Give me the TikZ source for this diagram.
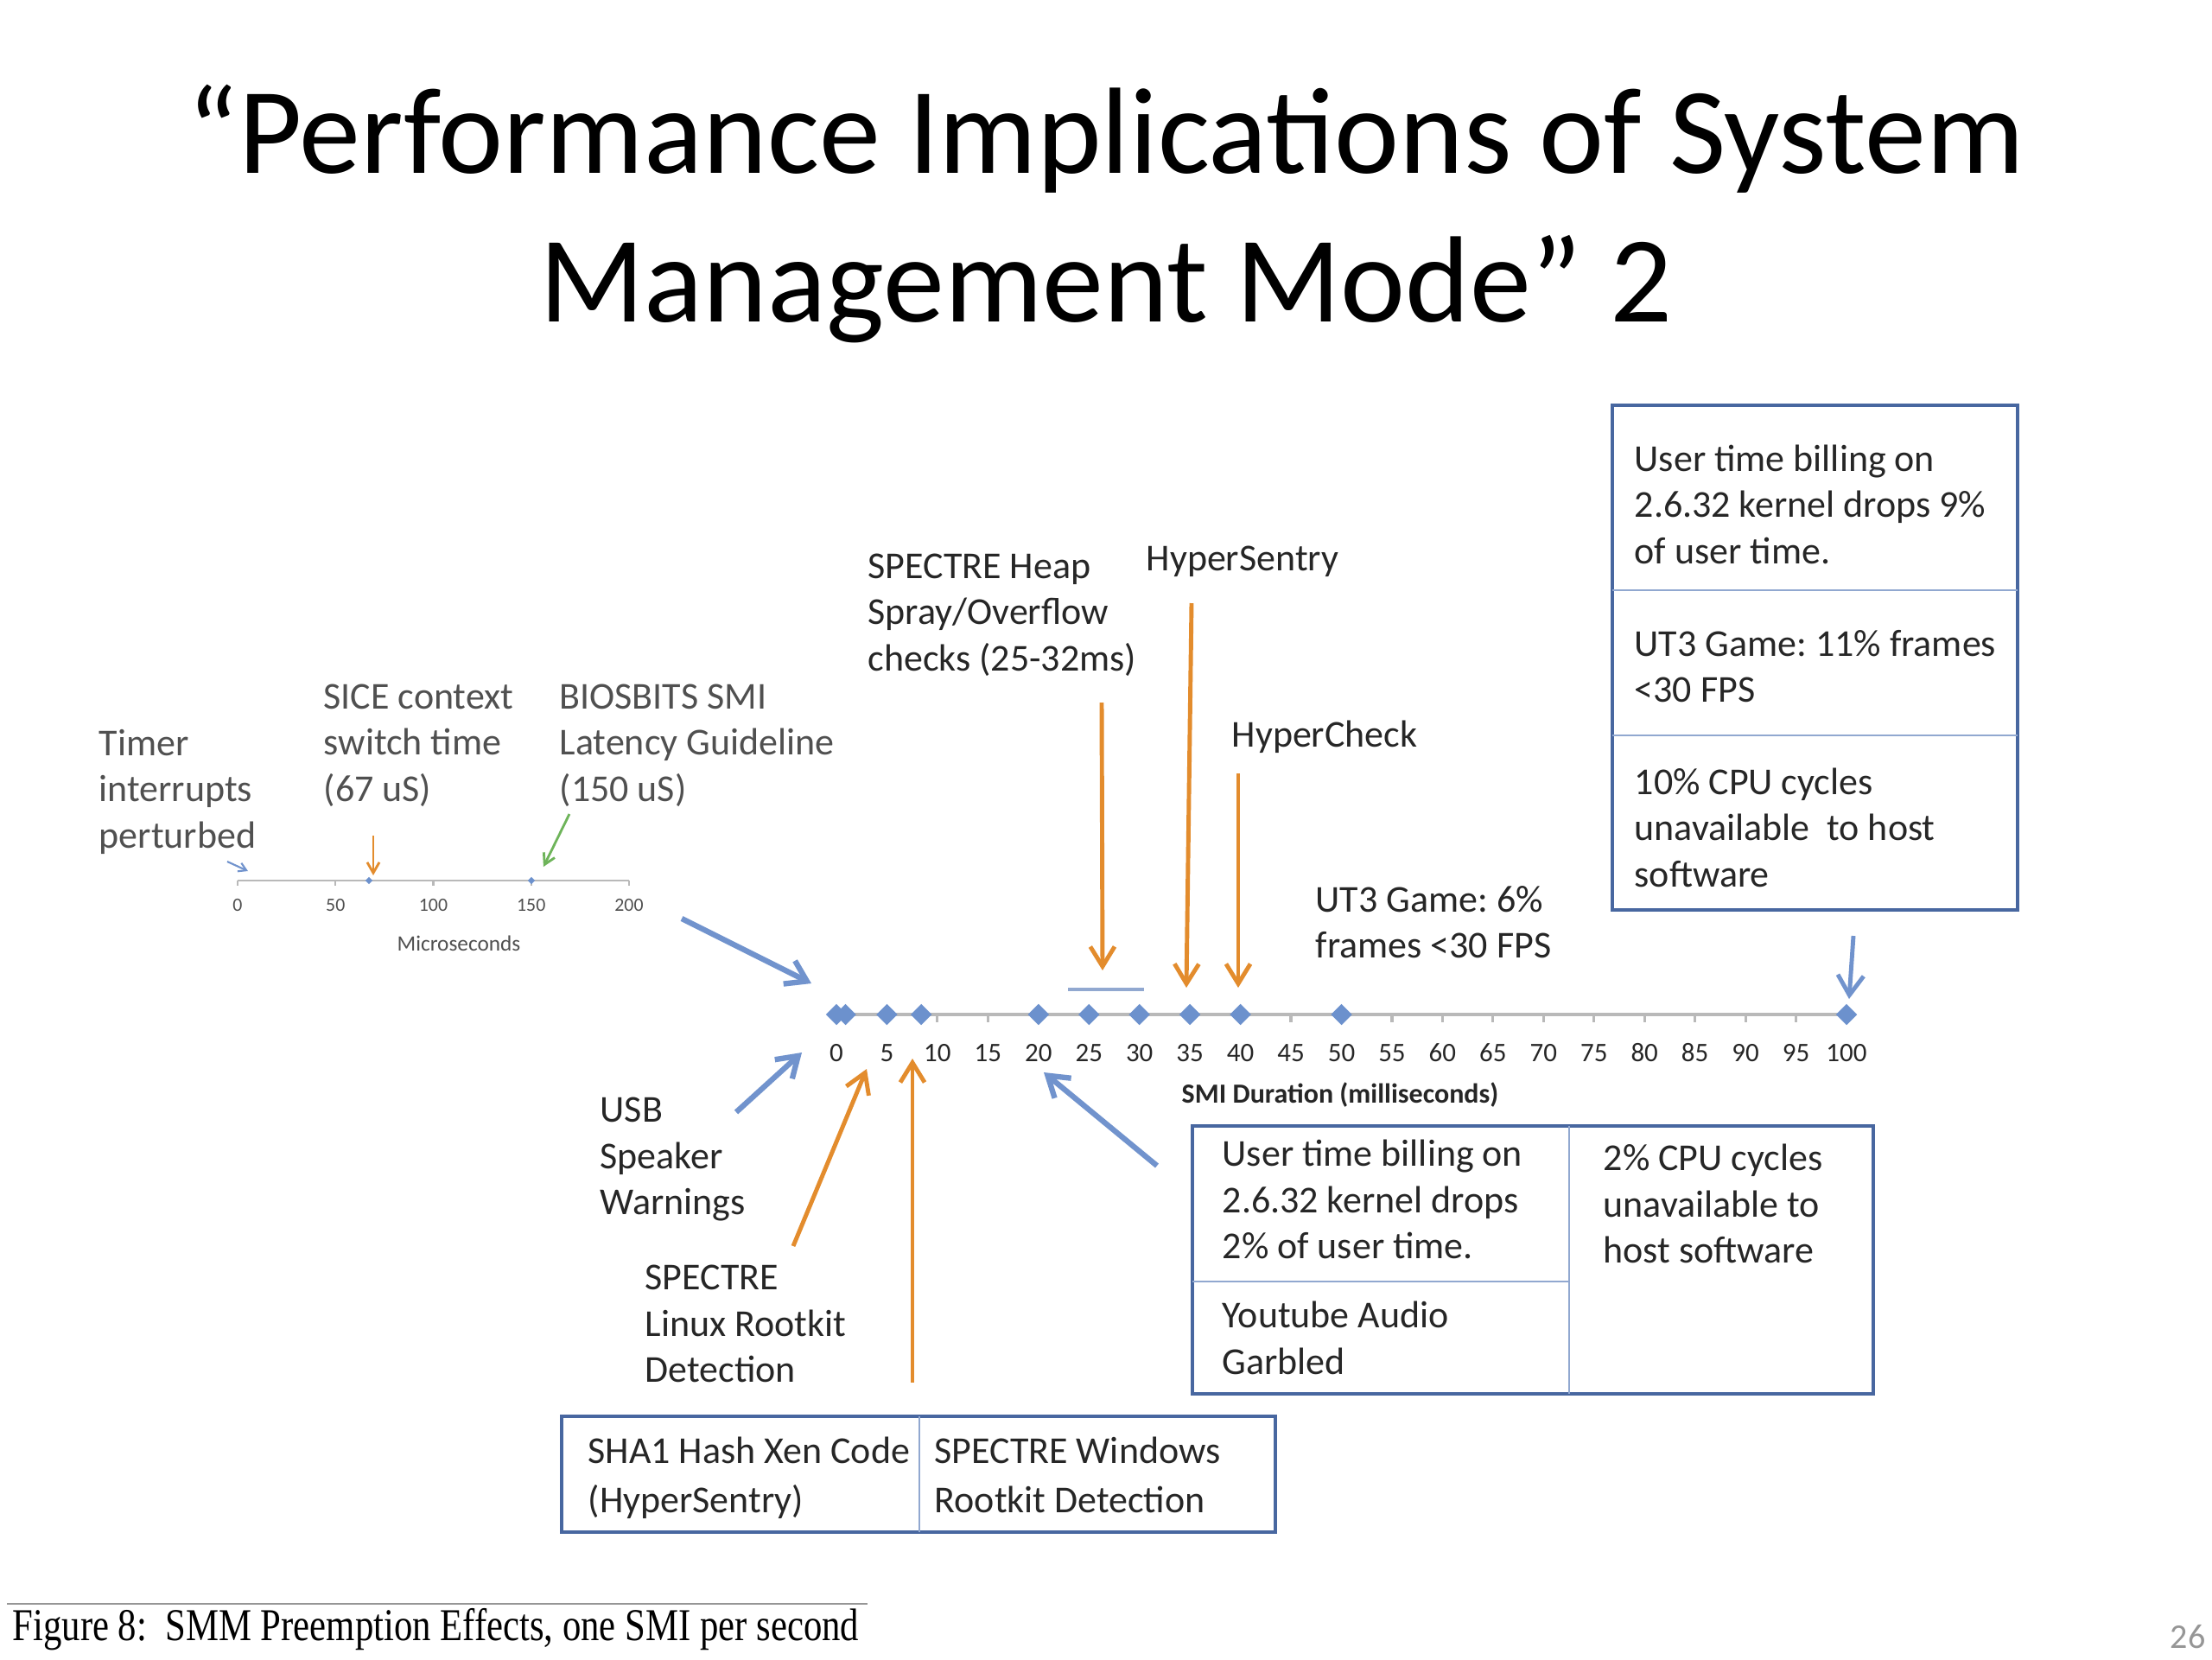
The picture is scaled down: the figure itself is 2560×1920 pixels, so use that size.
\documentclass[tikz,border=0pt]{standalone}
\usepackage{fontspec}
\setmainfont{Carlito}
\newfontfamily\capfont{Liberation Serif}
\usetikzlibrary{arrows.meta,shapes.geometric}
\definecolor{orA}{RGB}{227,140,45}
\definecolor{blA}{RGB}{113,147,205}
\definecolor{grA}{RGB}{110,180,90}
\definecolor{dmdC}{RGB}{108,145,205}
\definecolor{axC}{RGB}{185,185,185}
\definecolor{boxC}{RGB}{72,103,160}
\definecolor{divC}{RGB}{145,168,208}
\definecolor{txtC}{RGB}{38,38,38}
\definecolor{txtG}{RGB}{80,80,80}
\definecolor{pgC}{RGB}{150,150,150}
\newcommand\lblfont{\fontsize{12.5pt}{15.1pt}\selectfont}
\newcommand\titlefont{\fontsize{40.4pt}{48.9pt}\selectfont}
\newcommand\tickfont{\fontsize{8.8pt}{10pt}\selectfont}
\newcommand\mtickfont{\fontsize{6.2pt}{7pt}\selectfont}
\frenchspacing
\begin{document}
\begin{tikzpicture}[x=0.01cm,y=-0.01cm,
  lbl/.style={anchor=north west,inner sep=0pt,align=left,font=\lblfont,text=txtC},
  lblg/.style={lbl,text=txtG},
  bigbox/.style={draw=boxC,line width=1.1pt,inner sep=0pt,fill=none},
  divline/.style={draw=divC,line width=0.7pt},
  axisline/.style={draw=axC,line width=0.9pt},
  dmd/.style={shape=diamond,fill=dmdC,inner sep=0pt,minimum size=0.25cm},
  sdmd/.style={shape=diamond,fill=dmdC,inner sep=0pt,minimum size=0.09cm},
  tick/.style={anchor=base,inner sep=0pt,font=\tickfont,text=txtC},
  mtick/.style={anchor=base,inner sep=0pt,font=\mtickfont,text=txtG},
  oarrow/.style={draw=orA,line width=1.4pt,-{Straight Barb[length=6.5pt,width=8pt]}},
  barrow/.style={draw=blA,line width=1.8pt,-{Straight Barb[length=6.5pt,width=8.5pt]}},
]
\useasboundingbox (0,0) rectangle (2560,1920);
\fill[white] (0,0) rectangle (2560,1920);

% title
\node[anchor=north,inner sep=0pt,align=center,font=\titlefont,text=black] (title) at (1280,79)
  {\strut“Performance Implications of System\\Management Mode” 2};

% micro axis
\draw[axisline,line width=0.6pt] (275,1019) -- (728,1019);
\foreach \k/\v in {0/0,1/50,2/100,3/150,4/200}{
  \draw[axisline,line width=0.6pt] (275+113.25*\k,1019) -- ++(0,6);
  \node[mtick] (mt\k) at (275+113.25*\k,1054) {\v};
}
\node[inner sep=0pt,font=\fontsize{7.2pt}{8pt}\selectfont,text=txtG] (microlbl) at (531,1092) {Microseconds};
\node[sdmd] (ms67) at (427,1019) {};
\node[sdmd] (ms150) at (615,1019) {};

% main axis
\draw[axisline] (962,1174) -- (2137,1174);
\foreach \k in {0,...,20}{
  \draw[axisline] (968+58.45*\k,1174) -- ++(0,9);
  \pgfmathtruncatemacro\vv{5*\k}
  \node[tick] (t\k) at (968+58.45*\k,1228) {\vv};
}
\node[inner sep=0pt,font=\fontsize{9.1pt}{10pt}\selectfont\bfseries,text=txtC] (smilbl) at (1551,1267) {SMI Duration (milliseconds)};
\foreach \v/\n in {0/a,0.9/b,5/c,8.4/d,20/e,25/f,30/g,35/h,40/i,50/j,100/k}{
  \node[dmd] (d\n) at (968+11.69*\v,1174) {};
}
\draw[draw=divC,line width=1.1pt] (1236,1145) coordinate (barL) -- (1324,1145) coordinate (barR);

% labels
\node[lblg] (timer) at (114,837) {\strut Timer\\interrupts\\perturbed};
\node[lblg] (sice) at (374,783) {\strut SICE context\\switch time\\(67 uS)};
\node[lblg] (bios) at (647,783) {\strut BIOSBITS SMI\\Latency Guideline\\(150 uS)};
\node[lbl] (heap) at (1004,632) {\strut SPECTRE Heap\\Spray/Overflow\\checks (25-32ms)};
\node[lbl] (hsen) at (1326,623) {\strut HyperSentry};
\node[lbl] (hchk) at (1425,827) {\strut HyperCheck};
\node[lbl] (ut3) at (1522,1018) {\strut UT3 Game: 6\%\\frames <30 FPS};
\node[lbl] (usb) at (694,1261) {\strut USB\\Speaker\\Warnings};
\node[lbl] (linux) at (746,1455) {\strut SPECTRE\\Linux Rootkit\\Detection};

% top-right box
\node[bigbox,minimum width=4.69cm,minimum height=5.84cm] (trbox) at (2100.5,761) {};
\draw[divline] (1866,683) -- (2335,683);
\draw[divline] (1866,851) -- (2335,851);
\node[lbl] (tr1) at (1891,508) {\strut User time billing on\\2.6.32 kernel drops 9\%\\of user time.};
\node[lbl] (tr2) at (1891,722) {\strut UT3 Game: 11\% frames\\<30 FPS};
\node[lbl] (tr3) at (1891,882) {\strut 10\% CPU cycles\\unavailable\ \ to host\\software};

% bottom-right box
\node[bigbox,minimum width=7.88cm,minimum height=3.10cm] (brbox) at (1774,1458) {};
\draw[divline] (1816,1303) -- (1816,1613);
\draw[divline] (1380,1483) -- (1816,1483);
\node[lbl] (br1) at (1414,1312) {\strut User time billing on\\2.6.32 kernel drops\\2\% of user time.};
\node[lbl] (br2) at (1414,1499) {\strut Youtube Audio\\Garbled};
\node[lbl] (br3) at (1855,1317) {\strut 2\% CPU cycles\\unavailable to\\host software};

% bottom box
\node[bigbox,minimum width=8.26cm,minimum height=1.34cm] (bbox) at (1063,1706) {};
\draw[divline] (1064,1639) -- (1064,1773);
\node[lbl] (b1) at (680,1656) {\strut SHA1 Hash Xen Code\\[1.1pt](HyperSentry)};
\node[lbl] (b2) at (1081,1656) {\strut SPECTRE Windows\\[1.1pt]Rootkit Detection};

% arrow end points
\coordinate (aTimS) at (263,997);  \coordinate (aTimE) at (287,1008);
\coordinate (aSicS) at (432,967);  \coordinate (aSicE) at (432,1013);
\coordinate (aBioS) at (659,942);  \coordinate (aBioE) at (629,1003);
\coordinate (aBigS) at (789,1063); \coordinate (aBigE) at (939,1138);
\coordinate (aHeaS) at (1275,813); \coordinate (aHeaE) at (1276,1123);
\coordinate (aHseS) at (1379,698); \coordinate (aHseE) at (1373,1143);
\coordinate (aHchS) at (1433,895); \coordinate (aHchE) at (1433,1143);
\coordinate (aHunS) at (2145,1083);\coordinate (aHunE) at (2140,1156);
\coordinate (aUsbS) at (852,1287); \coordinate (aUsbE) at (928,1218);
\coordinate (aLinS) at (918,1442); \coordinate (aLinE) at (1003,1237);
\coordinate (aShaS) at (1056,1600);\coordinate (aShaE) at (1056,1225);
\coordinate (aBoxS) at (1339,1349);\coordinate (aBoxE) at (1208,1241);

\draw[draw=blA,line width=0.6pt,-{Straight Barb[length=2.5pt,width=3pt]}] (aTimS) -- (aTimE);
\draw[draw=orA,line width=0.8pt,-{Straight Barb[length=3.5pt,width=4pt]}] (aSicS) -- (aSicE);
\draw[draw=grA,line width=0.8pt,-{Straight Barb[length=3.5pt,width=4pt]}] (aBioS) -- (aBioE);
\draw[barrow] (aBigS) -- (aBigE);
\draw[oarrow] (aHeaS) -- (aHeaE);
\draw[oarrow] (aHseS) -- (aHseE);
\draw[oarrow] (aHchS) -- (aHchE);
\draw[barrow,line width=1.4pt] (aHunS) -- (aHunE);
\draw[barrow] (aUsbS) -- (aUsbE);
\draw[oarrow] (aLinS) -- (aLinE);
\draw[oarrow] (aShaS) -- (aShaE);
\draw[barrow] (aBoxS) -- (aBoxE);

% caption
\draw[draw=pgC,line width=0.8pt] (8,1856) coordinate (capL) -- (1004,1856) coordinate (capR);
\node[anchor=base west,inner sep=0pt,text=black] (caption) at (14,1898)
  {\capfont\fontsize{15pt}{17pt}\selectfont\scalebox{0.81}[1]{Figure 8:\ \ SMM Preemption Effects, one SMI per second}};
\node[inner sep=0pt,font=\fontsize{11.4pt}{12pt}\selectfont,text=pgC] (pagenum) at (2532,1894) {26};
\end{tikzpicture}
\end{document}
